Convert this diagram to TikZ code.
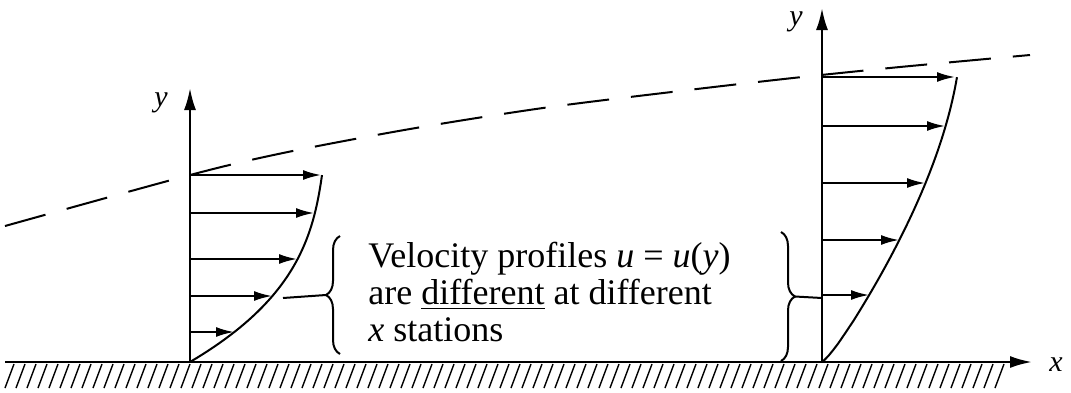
\documentclass[tikz,border=0pt]{standalone}
\usepackage{fontspec}
\setmainfont{Liberation Serif}
\usetikzlibrary{arrows.meta, decorations.pathreplacing}

\begin{document}
\begin{tikzpicture}[x=0.5pt, y=-0.5pt, line join=round,
  ax/.style={line width=1.2pt, -{Latex[length=11pt, width=6pt]}},
  vel/.style={line width=1pt, -{Latex[length=9pt, width=5pt]}},
  prof/.style={line width=1pt},
  edge/.style={line width=1pt, dash pattern=on 21pt off 11pt},
  br/.style={line width=1pt, decorate, decoration={brace, amplitude=7pt}},
  lbl/.style={font=\fontsize{15}{15}\selectfont\itshape, inner sep=0pt}]
\useasboundingbox (0,0) rectangle (1071,392);
% wall and hatching
\foreach \x in {5,16,...,1005} \draw[line width=0.7pt] (\x,388) -- (\x+9,364);
\coordinate (o1) at (190,362);
\coordinate (o2) at (822,362);
\coordinate (xend) at (1032,362);
\draw[ax] (5,362) -- (xend);
\node[lbl] (xl) at (1056,365) {x};
% boundary layer edge
\draw[edge] plot[smooth] coordinates {(5,226) (190,175) (283,153) (410,129) (543,108) (680,91) (793,78) (900,67) (1030,55)};
% station 1
\draw[ax] (o1) -- (190,88) coordinate (y1);
\node[lbl] (yl1) at (161,103) {y};
\draw[prof] plot[domain=0:1, samples=50, variable=\t]
  ({190+132*(2.4*\t-2*\t*\t+0.6*\t*\t*\t)}, {362-187*\t});
\foreach \y/\u in {332/234, 296/272, 259/297, 213/314, 175/321}
  \draw[vel] (o1 |- 0,\y) -- (\u,\y);
% station 2
\draw[ax] (o2) -- (822,8) coordinate (y2);
\node[lbl] (yl2) at (796,22) {y};
\draw[prof] (o2) -- plot[domain=0.002:1, samples=50, variable=\t]
  ({822+135*(0.5*\t^0.72+0.75*\t-0.25*\t^3)}, {362-285*\t});
\foreach \y/\u in {295/869, 240/899, 183/925, 126/945, 77/955}
  \draw[vel] (o2 |- 0,\y) -- (\u,\y);
% note and braces
\node[anchor=north west, align=left, inner sep=0pt,
  font=\fontsize{18}{18.5}\selectfont] (note) at (368,242)
  {Velocity profiles \textit{u} = \textit{u}(\textit{y})\\
   are \underline{different} at different\\
   \textit{x} stations};
\draw[br] (340,354) -- (340,236) coordinate[midway, xshift=-7pt] (b1);
\draw[br] (781,232) -- (781,361) coordinate[midway, xshift=7pt] (b2);
\draw[prof] (283,298) -- (b1);
\draw[prof] (b2) -- (822,298);
\end{tikzpicture}
\end{document}
